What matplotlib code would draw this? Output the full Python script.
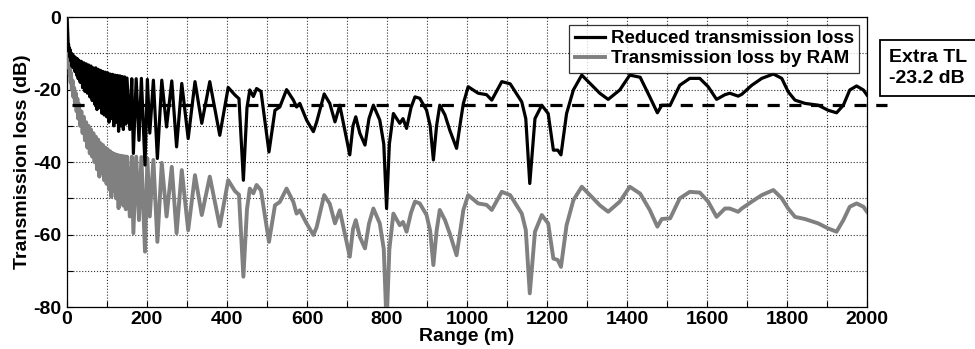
import matplotlib
matplotlib.use('Agg')
import matplotlib.pyplot as plt
import numpy as np

plt.rcParams['font.family'] = ['Liberation Sans', 'DejaVu Sans']
plt.rcParams['font.weight'] = 'bold'

# near field (0-320 m): fast interference lobes
rng_near = [0, 1, 2, 3, 4, 5, 6, 7, 8, 9, 10, 12, 14, 16, 18, 20, 22, 24, 26, 28, 30,
            33, 36, 39, 42, 45, 48, 51, 54, 57, 60, 63, 66, 69, 72, 75, 78, 81, 84, 87,
            90, 93, 96, 99, 102, 105, 108, 111, 114, 117, 120, 123, 126, 129, 132, 135,
            138, 141, 144, 147,
            150, 157, 162, 166, 173, 180, 186, 195, 201, 207, 216, 226, 237, 249, 262,
            274, 287, 303, 320]
red_near = [0, -3, -6, -8, -7.5, -9.5, -8.5, -11, -9, -12, -9.8, -13.5, -10.3, -14,
            -10.8, -15, -11.2, -16, -11.5, -17, -11.9,
            -18, -12.2, -19.5, -12.6, -20.5, -12.9, -21, -13.2, -22, -13.5, -23, -14,
            -24, -14, -25.5, -14.4, -25, -14.7, -26.5,
            -15, -27, -15.2, -27.5, -15.4, -29, -15.7, -28, -15.8, -30, -16, -29,
            -16.1, -31.5, -16.2, -30,
            -16.4, -31, -16.5, -29.5,
            -16.8, -31, -17, -37.6, -17, -34, -16.9, -40.8, -17.2, -32, -17.4, -39,
            -17.4, -30.3, -17.6, -35.8, -18.3, -33.5, -17.8]
ram_near = [0, -4, -8, -11, -10, -14, -12.5, -16, -14, -18, -15.5, -20, -17.5, -22,
            -19.5, -24, -21, -26, -22.5, -28, -24,
            -30, -26, -32, -27.5, -34, -29, -36, -30, -37.6, -31, -38.5, -32, -40, -33,
            -42, -33.8, -44, -34.8, -43,
            -35.3, -45, -36, -46, -36.5, -47.5, -37, -49.6, -37.5, -48, -37.8, -50,
            -38, -52.7, -38.2, -50,
            -38.3, -52, -38.4, -53,
            -38.5, -55, -38.5, -59.6, -38.5, -56, -38.6, -64.7, -39, -55, -39.4, -62,
            -40.2, -55, -41.3, -59.6, -42.2, -58.8, -43.6]

# mid field (320-1000 m)
rng_mid = [337, 357, 382, 403, 420, 430, 441, 450, 457, 466, 474, 485, 505, 520, 532,
           549, 566, 574, 582, 599, 616, 624, 643, 657, 670, 682, 707, 715, 722, 732,
           745, 755, 766, 782, 792, 799, 806, 816, 832, 840, 849, 860, 870, 882, 899,
           908, 916, 924, 932, 945, 957, 974, 985, 991, 1003]
red_mid = [-29.3, -17.8, -32.6, -19.4, -21.5, -22.5, -45, -25, -20.1, -21.9, -19.7,
           -20.5, -37.2, -25.7, -24.8, -20, -22.9, -24.8, -23.8, -28.4, -31.6, -29,
           -21.2, -23.8, -28.9, -24.3, -38, -30, -27.5, -32, -35.3, -28, -24.3, -28.4,
           -35, -52.8, -35, -26.6, -29.3, -28, -30.7, -25, -22, -22.4, -25.7, -30,
           -39.4, -30, -24.3, -27, -31.2, -36.2, -28, -23.8, -19.2]
ram_mid = [-54.6, -44, -57.7, -45, -48, -49, -71.6, -53, -47.3, -48.6, -46.3, -47.8,
           -62, -51.9, -51, -47.3, -51, -54.2, -53.3, -56.9, -60.1, -58, -49.1, -51.5,
           -56.9, -53.3, -66.1, -58.5, -56, -60.6, -63.8, -57, -52.8, -56.9, -64, -85,
           -64, -54.2, -57.4, -56.5, -59.2, -54, -50.9, -51.4, -54.6, -59, -68.4, -59,
           -53.2, -56, -59.7, -65.7, -57.5, -53.2, -49.1]

# far field (1000-2000 m)
rng_far = [1028, 1049, 1062, 1087, 1108, 1137, 1147, 1157, 1170, 1187, 1203, 1216,
           1227, 1235, 1249, 1266, 1287, 1312, 1332, 1353, 1382, 1407, 1433, 1457,
           1476, 1487, 1508, 1532, 1557, 1582, 1603, 1624, 1645, 1657, 1678, 1687,
           1712, 1737, 1766, 1787, 1803, 1820, 1845, 1878, 1903, 1924, 1941, 1957,
           1974, 1991, 2000]
red_far = [-21, -21.4, -22.9, -17.8, -18.4, -23.4, -28, -45.9, -28, -24.3, -26.6,
           -36.7, -36.7, -38, -26.6, -20.1, -16, -18.8, -21, -22.7, -20.1, -16, -16.6,
           -22, -26.4, -24.3, -24.3, -18.8, -16.9, -16.9, -19.2, -22.7, -21.4, -21,
           -21.8, -21.3, -18.8, -16.9, -15.7, -16.9, -20.6, -22.9, -23.8, -24.3, -25.7,
           -26.4, -24.3, -20.1, -19, -20.1, -21.5]
ram_far = [-51.4, -51.8, -53.2, -48.2, -49.1, -54.2, -58.7, -76.2, -59.2, -54.6, -56.9,
           -66.6, -67, -68.9, -57.4, -50.5, -46.8, -49.6, -51.9, -53.7, -50.9, -46.8,
           -48.7, -53.2, -57.8, -55.7, -55.5, -50, -48.2, -48.4, -50.9, -55.1, -52.8,
           -52.8, -53.7, -52.8, -50.9, -49.1, -47.7, -50, -52.8, -55.1, -55.7, -56.9,
           -58.3, -59.2, -56, -52.3, -51.4, -52.3, -53.7]

rng = rng_near + rng_mid + rng_far
tl_reduced = red_near + red_mid + red_far
tl_ram = ram_near + ram_mid + ram_far

extra_tl = -24.3
dash_span = [12, 2050]

fig = plt.figure(figsize=(9.75, 3.49), dpi=100)
ax = fig.add_axes([0.0687, 0.120, 0.8205, 0.831])

ax.plot(rng, tl_ram, color='#808080', lw=2.8, solid_joinstyle='round',
        label='Transmission loss by RAM', zorder=3)
ax.plot(rng, tl_reduced, color='black', lw=2.3, solid_joinstyle='round',
        label='Reduced transmission loss', zorder=4)
ax.plot(dash_span, [extra_tl, extra_tl], color='black', lw=2.3,
        dashes=(3.8, 3), clip_on=False, zorder=5)

ax.set_xlim(0, 2000)
ax.set_ylim(-80, 0)
ax.set_xticks(np.arange(0, 2001, 100))
ax.set_xticklabels([str(v) if v % 200 == 0 else '' for v in range(0, 2001, 100)])
ax.set_yticks(np.arange(-80, 1, 10))
ax.set_yticklabels([str(v) if v % 20 == 0 else '' for v in range(-80, 1, 10)])
ax.tick_params(direction='in', length=4, labelsize=14)
ax.tick_params(axis='x', pad=3)
ax.tick_params(axis='y', pad=4)
ax.grid(True, ls=':', color='#333333', lw=0.8)
for sp in ax.spines.values():
    sp.set_linewidth(0.9)

ax.set_xlabel('Range (m)', fontsize=14, fontweight='bold', labelpad=0)
ax.set_ylabel('Transmission loss (dB)', fontsize=14, fontweight='bold', labelpad=2)

h, l = ax.get_legend_handles_labels()
leg = ax.legend(h[::-1], l[::-1], loc='upper right', frameon=True,
                fancybox=False, edgecolor='black', handlelength=1.6,
                handletextpad=0.3, borderpad=0.3, labelspacing=0.15,
                borderaxespad=0.4, prop={'weight': 'bold', 'size': 13.5})
leg.get_frame().set_linewidth(0.9)

fig.text(0.912, 0.805, 'Extra TL\n-23.2 dB', fontsize=14, fontweight='bold',
         va='center', ha='left', linespacing=1.3,
         bbox=dict(boxstyle='square,pad=0.45', fc='white', ec='black', lw=1.3))

fig.savefig('out.png', dpi=100)
